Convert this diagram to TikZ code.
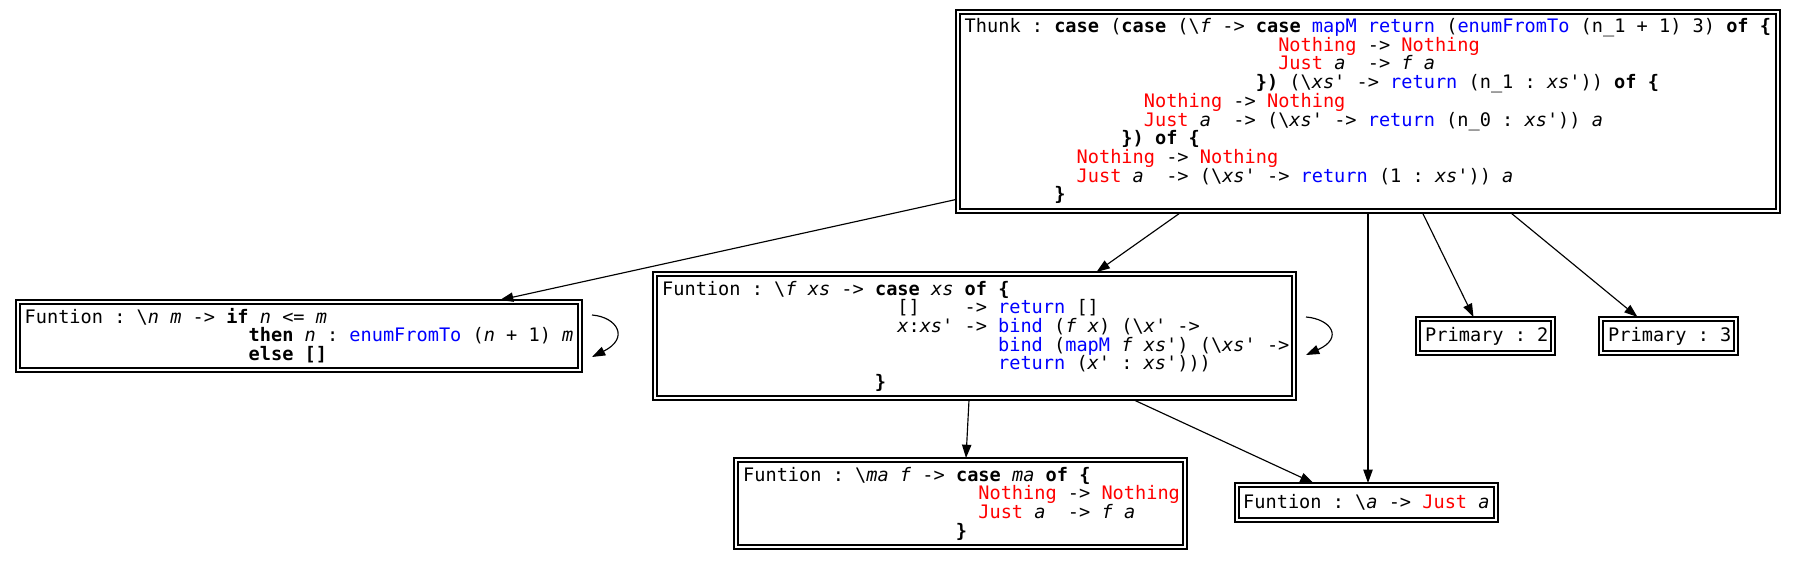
\documentclass[tikz,border=0pt]{standalone}
\usepackage{fontspec}
\setmonofont{DejaVu Sans Mono}[ItalicFont={DejaVu Sans Mono Oblique},BoldFont={DejaVu Sans Mono Bold},BoldItalicFont={DejaVu Sans Mono Bold Oblique},WordSpace={1,0,0}]
\usetikzlibrary{arrows.meta,calc}
\definecolor{kred}{RGB}{255,0,0}
\definecolor{kblue}{RGB}{0,0,255}
\newcommand\kw[1]{\textbf{#1}}
\newcommand\vr[1]{\textit{#1}}
\newcommand\cn[1]{\textcolor{kred}{#1}}
\newcommand\fnc[1]{\textcolor{kblue}{#1}}
\newcommand\bs{\textbackslash}
\newcommand\codeln[2]{\hbox{\hskip #1\fontcharwd\font`0\relax #2}}
\newcommand\codeblk[1]{\vtop{\baselineskip=18.7pt\lineskiplimit=-100pt\lineskip=0pt #1}}
\tikzset{
  box/.style={draw, rectangle, line width=1.15pt, double, double distance=2.85pt, inner sep=0pt, outer sep=2pt},
  code/.style={anchor=base west, inner sep=0pt, font=\ttfamily\fontsize{18.6}{18.7}\selectfont},
  arr/.style={-{Triangle[length=13.3pt,width=9.3pt]}, line width=1.15pt}
}
\begin{document}
\begin{tikzpicture}[x=1pt,y=-1pt]
\useasboundingbox (0,0) rectangle (1796,560);
% boxes
\node[box, minimum width=820pt, minimum height=199pt] (thunk) at (1368,111.5) {};
\node[box, minimum width=562pt, minimum height=68pt] (enum) at (299,336) {};
\node[box, minimum width=639pt, minimum height=124pt] (mapM) at (974.5,336) {};
\node[box, minimum width=135pt, minimum height=34pt] (p2) at (1485.5,336) {};
\node[box, minimum width=135pt, minimum height=34pt] (p3) at (1668.5,336) {};
\node[box, minimum width=449pt, minimum height=87pt] (maf) at (960.5,503.5) {};
\node[box, minimum width=259pt, minimum height=35pt] (abox) at (1366.5,502.5) {};
% texts
\node[code] (thunkt) at (964.5,32.5) {\codeblk{%
\codeln{0}{Thunk : \kw{case} (\kw{case} (\bs\vr{f} -> \kw{case} \fnc{mapM} \fnc{return} (\fnc{enumFromTo} (n\_1 + 1) 3) \kw{of \{}}%
\codeln{28}{\cn{Nothing} -> \cn{Nothing}}%
\codeln{28}{\cn{Just} \vr{a}~ -> \vr{f} \vr{a}}%
\codeln{26}{\kw{\})} (\bs\vr{xs'} -> \fnc{return} (n\_1 : \vr{xs'})) \kw{of \{}}%
\codeln{16}{\cn{Nothing} -> \cn{Nothing}}%
\codeln{16}{\cn{Just} \vr{a}~ -> (\bs\vr{xs'} -> \fnc{return} (n\_0 : \vr{xs'})) \vr{a}}%
\codeln{14}{\kw{\}) of \{}}%
\codeln{10}{\cn{Nothing} -> \cn{Nothing}}%
\codeln{10}{\cn{Just} \vr{a}~ -> (\bs\vr{xs'} -> \fnc{return} (1 : \vr{xs'})) \vr{a}}%
\codeln{8}{\kw{\}}}%
}};
\node[code] (enumt) at (24.5,323) {\codeblk{%
\codeln{0}{Funtion : \bs\vr{n} \vr{m} -> \kw{if} \vr{n} <= \vr{m}}%
\codeln{20}{\kw{then} \vr{n} : \fnc{enumFromTo} (\vr{n} + 1) \vr{m}}%
\codeln{20}{\kw{else []}}%
}};
\node[code] (mapMt) at (662,295) {\codeblk{%
\codeln{0}{Funtion : \bs\vr{f} \vr{xs} -> \kw{case} \vr{xs} \kw{of \{}}%
\codeln{21}{[]~~~ -> \fnc{return} []}%
\codeln{21}{\vr{x}:\vr{xs'} -> \fnc{bind} (\vr{f} \vr{x}) (\bs\vr{x'} ->}%
\codeln{30}{\fnc{bind} (\fnc{mapM} \vr{f} \vr{xs'}) (\bs\vr{xs'} ->}%
\codeln{30}{\fnc{return} (\vr{x'} : \vr{xs'})))}%
\codeln{19}{\kw{\}}}%
}};
\node[code] (p2t) at (1425,341.7) {Primary : 2};
\node[code] (p3t) at (1608,341.7) {Primary : 3};
\node[code] (maft) at (743,481.2) {\codeblk{%
\codeln{0}{Funtion : \bs\vr{ma} \vr{f} -> \kw{case} \vr{ma} \kw{of \{}}%
\codeln{21}{\cn{Nothing} -> \cn{Nothing}}%
\codeln{21}{\cn{Just} \vr{a}~ -> \vr{f} \vr{a}}%
\codeln{19}{\kw{\}}}%
}};
\node[code] (aboxt) at (1243,508.2) {Funtion : \bs\vr{a} -> \cn{Just} \vr{a}};
% edges
\draw[arr] ([shift={(0,88)}]thunk.west) -- ([shift={(201,0)}]enum.north);
\draw[arr] ([shift={(-188,0)}]thunk.south) -- ([shift={(122,0)}]mapM.north);
\draw[arr] (thunk.south) -- (thunk.south |- abox.north);
\draw[arr] ([shift={(54.6,0)}]thunk.south) -- ([shift={(-12,0)}]p2.north);
\draw[arr] ([shift={(143,0)}]thunk.south) -- ([shift={(-31,0)}]p3.north);
\draw[arr] ([shift={(-5.5,0)}]mapM.south) -- ([shift={(5.5,0)}]maf.north);
\draw[arr] ([shift={(159.5,0)}]mapM.south) -- ([shift={(-53,0)}]abox.north);
% self loops
\draw[arr] ([shift={(10,-21)}]enum.east) .. controls ([shift={(35,-19)}]enum.east) and ([shift={(48,2)}]enum.east) .. ([shift={(10,21)}]enum.east);
\draw[arr] ([shift={(10,-19)}]mapM.east) .. controls ([shift={(35,-17)}]mapM.east) and ([shift={(48,2)}]mapM.east) .. ([shift={(10,19)}]mapM.east);
\end{tikzpicture}
\end{document}
